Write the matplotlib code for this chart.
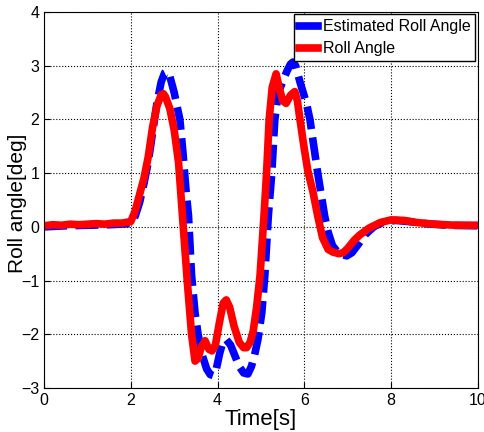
"""Roll angle: estimated vs measured."""

import matplotlib
matplotlib.use("Agg")
import matplotlib.pyplot as plt

plt.rcParams["font.family"] = ["Liberation Sans", "DejaVu Sans"]

# estimated roll angle (blue, dashed)
est_time = [0.0, 0.5, 1.0, 1.5, 2.0, 2.1, 2.2, 2.3, 2.4, 2.5, 2.6, 2.7, 2.78,
            2.83, 2.9, 3.0, 3.13, 3.2, 3.27, 3.33, 3.4, 3.48, 3.55, 3.65, 3.75,
            3.83, 3.9, 3.97, 4.05, 4.12, 4.2, 4.3, 4.4, 4.5, 4.6, 4.7, 4.78,
            4.85, 4.93, 5.02, 5.09, 5.17, 5.25, 5.32, 5.4, 5.5, 5.6, 5.68,
            5.74, 5.8, 5.9, 6.05, 6.13, 6.22, 6.31, 6.4, 6.47, 6.55, 6.65,
            6.8, 6.98, 7.1, 7.25, 7.4, 7.6, 7.8, 8.1, 8.4, 8.8, 9.3, 10.0]
est_roll = [0.0, 0.02, 0.03, 0.04, 0.06, 0.2, 0.45, 0.8, 1.2, 1.75, 2.3, 2.7,
            2.87, 2.89, 2.8, 2.5, 2.0, 1.4, 0.7, 0.2, -0.9, -1.6, -2.0, -2.4,
            -2.65, -2.75, -2.77, -2.65, -2.35, -2.15, -2.1, -2.2, -2.4, -2.6,
            -2.72, -2.74, -2.6, -2.4, -2.1, -1.6, -0.9, 0.2, 1.0, 2.0, 2.5,
            2.7, 2.9, 3.03, 3.07, 3.0, 2.7, 2.3, 2.0, 1.5, 1.0, 0.55, 0.2,
            -0.1, -0.35, -0.5, -0.54, -0.48, -0.32, -0.15, 0.0, 0.08, 0.12,
            0.1, 0.06, 0.03, 0.02]

# measured roll angle (red, solid)
roll_time = [0.0, 0.2, 0.4, 0.6, 0.8, 1.0, 1.2, 1.4, 1.6, 1.8, 2.0, 2.1, 2.2,
             2.3, 2.4, 2.5, 2.6, 2.7, 2.75, 2.8, 2.9, 3.0, 3.1, 3.2, 3.3, 3.4,
             3.48, 3.55, 3.62, 3.71, 3.8, 3.87, 3.95, 4.05, 4.13, 4.2, 4.28,
             4.38, 4.5, 4.6, 4.67, 4.75, 4.82, 4.9, 4.98, 5.07, 5.13, 5.19,
             5.26, 5.35, 5.42, 5.5, 5.58, 5.68, 5.78, 5.84, 5.9, 6.0, 6.08,
             6.2, 6.31, 6.42, 6.55, 6.66, 6.8, 6.9, 7.0, 7.15, 7.28, 7.5,
             7.75, 8.0, 8.3, 8.6, 9.0, 9.5, 10.0]
roll = [0.02, 0.04, 0.03, 0.05, 0.04, 0.05, 0.06, 0.05, 0.07, 0.07, 0.1, 0.3,
        0.6, 0.9, 1.3, 1.85, 2.25, 2.46, 2.48, 2.42, 2.2, 1.8, 1.2, 0.1, -1.0,
        -2.0, -2.5, -2.45, -2.25, -2.12, -2.28, -2.31, -2.2, -1.75, -1.42,
        -1.36, -1.5, -1.85, -2.15, -2.25, -2.25, -2.15, -1.95, -1.5, -0.9,
        0.2, 1.0, 2.0, 2.6, 2.85, 2.6, 2.35, 2.3, 2.45, 2.52, 2.35, 2.0,
        1.45, 1.05, 0.65, 0.2, -0.2, -0.42, -0.47, -0.5, -0.48, -0.4, -0.25,
        -0.15, -0.02, 0.08, 0.13, 0.12, 0.08, 0.05, 0.03, 0.03]

fig = plt.figure(figsize=(4.85, 4.32), dpi=100)
ax = fig.add_axes([0.091, 0.102, 0.894, 0.870])

ax.plot(est_time, est_roll, color="#0000ff", linewidth=5.5, linestyle="--",
        dashes=(3, 1.1), label="Estimated Roll Angle")
ax.plot(roll_time, roll, color="#ff0000", linewidth=5.5,
        label="Roll Angle")

ax.set_xlim(0, 10)
ax.set_ylim(-3, 4)
ax.set_xticks(range(0, 11, 2))
ax.set_yticks(range(-3, 5))
ax.grid(True, color="black", linestyle=":", linewidth=0.8)
ax.tick_params(direction="in", labelsize=11.5, length=4)
ax.set_xlabel("Time[s]", fontsize=16, labelpad=1)
ax.set_ylabel("Roll angle[deg]", fontsize=15)
ax.yaxis.set_label_coords(-0.039, 0.49)

leg = ax.legend(loc="upper right", fontsize=11.5, handlelength=1.2,
                handletextpad=0.3, borderpad=0.3, labelspacing=0.45,
                fancybox=False, framealpha=1, borderaxespad=0.15)
leg.get_frame().set_edgecolor("black")
for line in leg.get_lines():
    line.set_linestyle("-")

fig.savefig("out.png", dpi=100)
